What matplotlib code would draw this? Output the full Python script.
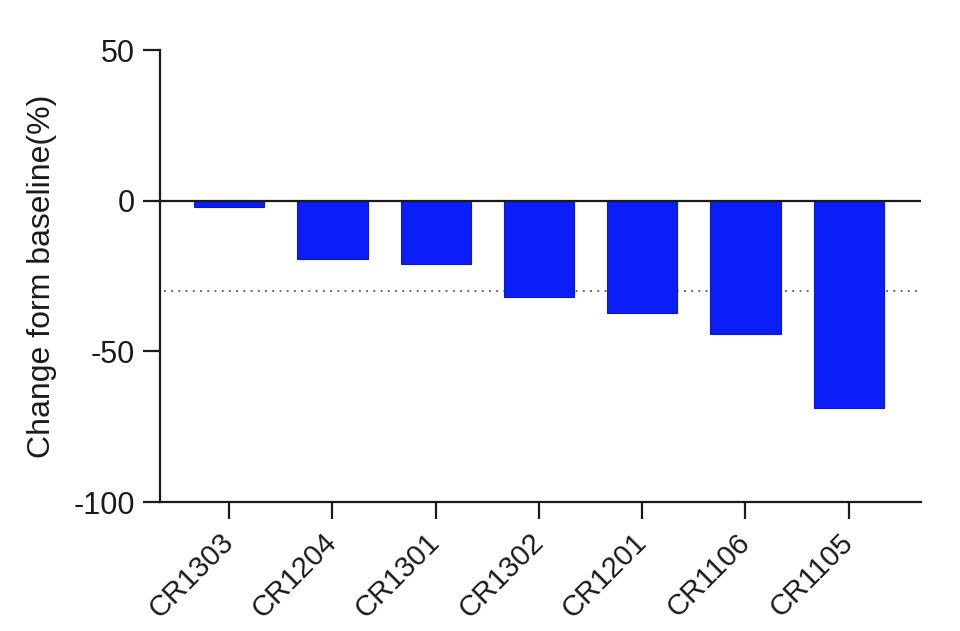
import matplotlib
matplotlib.use("Agg")
import matplotlib.pyplot as plt
import numpy as np

categories = ["CR1303", "CR1204", "CR1301", "CR1302", "CR1201", "CR1106", "CR1105"]
values = [-2.2, -19.4, -21.0, -32.0, -37.3, -44.2, -68.9]
threshold = -30
yticks = [50, 0, -50, -100]

plt.rcParams['font.family'] = ['Liberation Sans', 'DejaVu Sans']

fig = plt.figure(figsize=(9.6, 6.31), dpi=100)
ax = fig.add_axes([160/960, 1-502/631, (921-160)/960, (502-50)/631])

x = np.arange(len(categories))
ax.bar(x, values, width=0.68, color='#0B1EF7', edgecolor='#0A18C8', linewidth=0.8, zorder=3)
ax.axhline(0, color='#1a1a1a', lw=1.6, zorder=4)
ax.axhline(threshold, color='#555555', lw=1.3, ls=(0, (1, 3)), zorder=2,
           xmin=0.005, xmax=0.995)

ax.set_xlim(-0.67, 6.7)
ax.set_ylim(-100, 50)
ax.set_yticks(yticks)
ax.set_yticklabels([str(t) if t >= 0 else "-" + str(-t) for t in yticks])
ax.set_xticks(x)
ax.set_xticklabels(categories, rotation=45, ha='right', va='center', rotation_mode='anchor')

for s in ['top', 'right']:
    ax.spines[s].set_visible(False)
for s in ['left', 'bottom']:
    ax.spines[s].set_linewidth(1.6)
    ax.spines[s].set_color('#1a1a1a')

ax.tick_params(axis='y', direction='out', length=12, width=1.6, color='#1a1a1a',
               labelsize=22, pad=6, labelcolor='#1a1a1a')
ax.tick_params(axis='x', direction='out', length=12, width=1.6, color='#1a1a1a',
               labelsize=21, pad=14, labelcolor='#1a1a1a')

ax.set_ylabel("Change form baseline(%)", fontsize=23, color='#1a1a1a', labelpad=12)

fig.savefig("out.png", dpi=100, facecolor='white')
